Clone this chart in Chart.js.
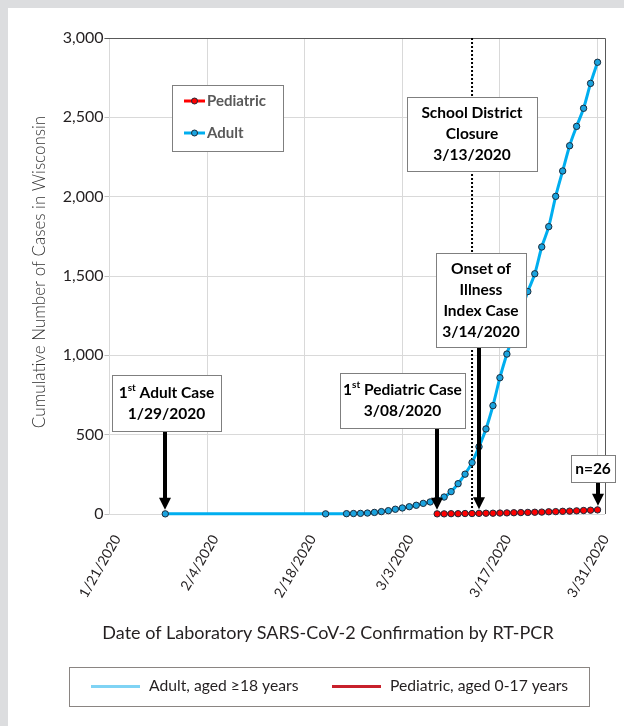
<!DOCTYPE html>
<html>
<head>
<meta charset="utf-8">
<script src="https://cdn.jsdelivr.net/npm/chart.js@4.4.0/dist/chart.umd.min.js"></script>
<style>
  html, body { margin: 0; padding: 0; background: #dcdddf; }
  body { width: 624px; height: 726px; position: relative; overflow: hidden; }
  #panel { position: absolute; left: 8px; top: 8px; right: 0; bottom: 0; background: #fff; }
  #chart { position: absolute; left: 0; top: 0; }
</style>
</head>
<body>
<div id="panel"></div>
<canvas id="chart" width="624" height="726"></canvas>
<script>
// === DATOS ===
const xTickLabels = ["1/21/2020", "2/4/2020", "2/18/2020", "3/3/2020", "3/17/2020", "3/31/2020"];

const adultDates = [
  "1/29", "2/21", "2/24", "2/25", "2/26", "2/27", "2/28", "2/29",
  "3/1", "3/2", "3/3", "3/4", "3/5", "3/6", "3/7", "3/8", "3/9", "3/10",
  "3/11", "3/12", "3/13", "3/14", "3/15", "3/16", "3/17", "3/18", "3/19", "3/20",
  "3/21", "3/22", "3/23", "3/24", "3/25", "3/26", "3/27", "3/28", "3/29", "3/30", "3/31"
];
const adultCases = [
  1, 1, 2, 3, 4, 6, 10, 15,
  21, 30, 38, 46, 55, 67, 76, 88, 107, 141,
  191, 251, 324, 424, 536, 683, 859, 1008, 1140, 1270,
  1402, 1514, 1683, 1811, 2002, 2162, 2321, 2443, 2557, 2714, 2847
];

const pediatricDates = [
  "3/8", "3/9", "3/10", "3/11", "3/12", "3/13", "3/14", "3/15", "3/16", "3/17", "3/18", "3/19",
  "3/20", "3/21", "3/22", "3/23", "3/24", "3/25", "3/26", "3/27", "3/28", "3/29", "3/30", "3/31"
];
const pediatricCases = [
  1, 1, 2, 2, 3, 3, 4, 5, 5, 6, 7, 8,
  9, 10, 11, 12, 14, 15, 17, 18, 20, 22, 24, 26
];

// fechas marcadas en negro (flechas)
const blackAdult = ["1/29"];
const blackPediatric = ["3/8", "3/14"];

// === FUNCIONES ===
// dias desde 1/21/2020
function toDay(s) {
  const p = s.split("/").map(Number);
  return (Date.UTC(2020, p[0] - 1, p[1]) - Date.UTC(2020, 0, 21)) / 86400000;
}

function toPoints(dates, values) {
  return dates.map((d, i) => ({ x: toDay(d), y: values[i] }));
}

const FONT = "Lato, 'Open Sans', sans-serif";
const boxFont = "bold 15.5px " + FONT;
const supFont = "bold 10px " + FONT;

// texto con superindice: "1{st} Adult Case"
function drawRich(ctx, text, cx, cy) {
  const parts = text.split(/[{}]/);
  let w = 0;
  parts.forEach((t, i) => {
    ctx.font = i % 2 ? supFont : boxFont;
    w += ctx.measureText(t).width;
  });
  let x = cx - w / 2;
  ctx.textAlign = "left";
  parts.forEach((t, i) => {
    ctx.font = i % 2 ? supFont : boxFont;
    ctx.fillText(t, x, i % 2 ? cy - 5 : cy);
    x += ctx.measureText(t).width;
  });
}

function drawArrow(ctx, x, y0, y1) {
  ctx.fillStyle = "#000";
  ctx.fillRect(x - 2, y0, 4, y1 - y0 - 11);
  ctx.beginPath();
  ctx.moveTo(x - 6, y1 - 12);
  ctx.lineTo(x + 6, y1 - 12);
  ctx.lineTo(x, y1);
  ctx.closePath();
  ctx.fill();
}

// cajas de anotacion (rect en pixeles: x0, y0, x1, y1)
const notes = [
  { lines: ["1{st} Adult Case", "1/29/2020"], date: "1/29", series: 0, rect: [112, 375, 221, 431] },
  { lines: ["1{st} Pediatric Case", "3/08/2020"], date: "3/8", series: 1, rect: [340, 373, 465, 428] },
  { lines: ["School District", "Closure", "3/13/2020"], date: "3/13", series: -1, rect: [407, 97, 537, 171] },
  { lines: ["Onset of", "Illness", "Index Case", "3/14/2020"], date: "3/14", series: 1, rect: [436, 253, 526, 347] },
  { lines: ["n=26"], date: "3/31", series: 1, rect: [571, 455, 615, 482] }
];

const extras = {
  id: "extras",
  beforeDatasetsDraw(chart) {
    const ctx = chart.ctx, a = chart.chartArea, xs = chart.scales.x;
    ctx.save();
    // marco superior y derecho
    ctx.strokeStyle = "#595959";
    ctx.lineWidth = 1;
    ctx.beginPath();
    ctx.moveTo(a.left - 5, Math.round(a.top) + 0.5);
    ctx.lineTo(Math.round(a.right) + 0.5, Math.round(a.top) + 0.5);
    ctx.lineTo(Math.round(a.right) + 0.5, a.bottom);
    ctx.stroke();
    // linea punteada cierre escolar
    const xc = xs.getPixelForValue(toDay("3/13"));
    ctx.strokeStyle = "#000";
    ctx.lineWidth = 2;
    ctx.setLineDash([2, 2]);
    ctx.beginPath();
    ctx.moveTo(xc, a.top);
    ctx.lineTo(xc, a.bottom);
    ctx.stroke();
    ctx.restore();
  },
  afterDatasetsDraw(chart) {
    const ctx = chart.ctx, xs = chart.scales.x, ys = chart.scales.y;
    ctx.save();
    notes.forEach(n => {
      const r = n.rect;
      if (n.series >= 0) {
        const ds = chart.data.datasets[n.series].data;
        const pt = ds.find(p => p.x === toDay(n.date));
        drawArrow(ctx, Math.round(xs.getPixelForValue(pt.x)), r[3], ys.getPixelForValue(pt.y) - 4);
      }
      ctx.fillStyle = "#fff";
      ctx.fillRect(r[0], r[1], r[2] - r[0], r[3] - r[1]);
      ctx.strokeStyle = "#7f7f7f";
      ctx.lineWidth = 1;
      ctx.strokeRect(r[0] + 0.5, r[1] + 0.5, r[2] - r[0], r[3] - r[1]);
      ctx.fillStyle = "#000";
      ctx.textBaseline = "middle";
      const lh = 21;
      const cy = (r[1] + r[3]) / 2 - (n.lines.length - 1) * lh / 2;
      n.lines.forEach((l, i) => drawRich(ctx, l, (r[0] + r[2]) / 2, cy + i * lh));
    });
    ctx.restore();
  },
  afterDraw(chart) {
    const ctx = chart.ctx;
    const ds = chart.data.datasets;
    ctx.save();
    ctx.textBaseline = "middle";

    // leyenda interior
    ctx.fillStyle = "#fff";
    ctx.fillRect(172, 85, 111, 66);
    ctx.strokeStyle = "#7f7f7f";
    ctx.lineWidth = 1;
    ctx.strokeRect(172.5, 85.5, 111, 66);
    [[ds[1], "Pediatric", 101], [ds[0], "Adult", 133]].forEach(([d, txt, y]) => {
      ctx.strokeStyle = d.borderColor;
      ctx.lineWidth = 3;
      ctx.beginPath();
      ctx.moveTo(184, y);
      ctx.lineTo(205, y);
      ctx.stroke();
      ctx.beginPath();
      ctx.arc(194.5, y, 3, 0, Math.PI * 2);
      ctx.fillStyle = d.pointBackgroundColor;
      ctx.fill();
      ctx.lineWidth = 1;
      ctx.strokeStyle = "#1b2a3a";
      ctx.stroke();
      ctx.fillStyle = "#595959";
      ctx.font = "bold 15px " + FONT;
      ctx.textAlign = "left";
      ctx.fillText(txt, 207, y);
    });

    // titulos de ejes
    ctx.fillStyle = "#231f20";
    ctx.font = "18px " + FONT;
    ctx.textAlign = "center";
    ctx.fillText("Date of Laboratory SARS-CoV-2 Confirmation by RT-PCR", 328, 633);
    ctx.save();
    ctx.translate(40, 272);
    ctx.rotate(-Math.PI / 2);
    ctx.fillStyle = "#333";
    ctx.font = "300 17px " + FONT;
    ctx.fillText("Cumulative Number of Cases in Wisconsin", 0, 0);
    ctx.restore();

    // leyenda inferior
    ctx.strokeStyle = "#8a8582";
    ctx.lineWidth = 1;
    ctx.strokeRect(69.5, 667.5, 520, 39);
    const items = [["#7fd3f4", ds[0].label, 91], ["#c8202b", ds[1].label, 332]];
    items.forEach(([c, txt, x]) => {
      ctx.strokeStyle = c;
      ctx.lineWidth = 3;
      ctx.beginPath();
      ctx.moveTo(x, 686.5);
      ctx.lineTo(x + 49, 686.5);
      ctx.stroke();
      ctx.fillStyle = "#231f20";
      ctx.font = "15.7px " + FONT;
      ctx.textAlign = "left";
      ctx.fillText(txt, x + 58, 686);
    });
    ctx.restore();
  }
};

function pointColors(dates, black, color) {
  return dates.map(d => (black.includes(d) ? "#000" : color));
}

// === GRAFICA ===
new Chart(document.getElementById("chart").getContext("2d"), {
  type: "line",
  data: {
    datasets: [
      {
        label: "Adult, aged \u226518 years",
        data: toPoints(adultDates, adultCases),
        borderColor: "#00aeef",
        borderWidth: 3,
        pointBackgroundColor: "#1ba3de",
        backgroundColor: pointColors(adultDates, blackAdult, "#1ba3de"),
        pointRadius: 3.2,
        pointBorderWidth: 1,
        pointBorderColor: "#1b2a3a",
        cubicInterpolationMode: "monotone",
        clip: false
      },
      {
        label: "Pediatric, aged 0-17 years",
        data: toPoints(pediatricDates, pediatricCases),
        borderColor: "#ff0000",
        borderWidth: 3,
        pointBackgroundColor: "#ff0000",
        backgroundColor: pointColors(pediatricDates, blackPediatric, "#ff0000"),
        pointRadius: 3.2,
        pointBorderWidth: 1,
        pointBorderColor: "#1b2a3a",
        cubicInterpolationMode: "monotone",
        clip: false
      }
    ]
  },
  options: {
    responsive: false,
    animation: false,
    devicePixelRatio: 1,
    layout: { padding: { left: 0, top: 38, right: 19.5, bottom: 102 } },
    elements: {
      point: {
        backgroundColor: ctx => ctx.dataset.backgroundColor[ctx.dataIndex]
      }
    },
    plugins: { legend: { display: false }, tooltip: { enabled: false } },
    scales: {
      x: {
        type: "linear",
        min: 0,
        max: 71,
        afterBuildTicks: s => { s.ticks = xTickLabels.map(l => ({ value: toDay(l) })); },
        afterFit: s => { s.height = 110; s.paddingLeft = 0; s.paddingRight = 0; },
        grid: { color: "#d9d9d9", drawTicks: false },
        border: { color: "#d9d9d9" },
        ticks: {
          minRotation: 60,
          maxRotation: 60,
          padding: 18,
          labelOffset: 8,
          color: "#231f20",
          font: { family: FONT, size: 14 },
          callback: v => xTickLabels[xTickLabels.map(toDay).indexOf(v)] || ""
        }
      },
      y: {
        min: 0,
        max: 3000,
        afterFit: s => { s.width = 109.5; s.paddingTop = 0; s.paddingBottom = 0; },
        grid: { color: "#d9d9d9", tickLength: 5, tickColor: "#bfbfbf" },
        border: { color: "#d9d9d9" },
        ticks: {
          stepSize: 500,
          padding: 1,
          color: "#231f20",
          font: { family: FONT, size: 16 }
        }
      }
    }
  },
  plugins: [extras]
});
</script>
</body>
</html>
